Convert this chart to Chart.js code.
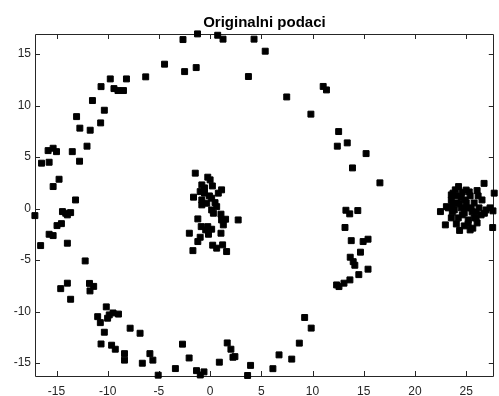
<!DOCTYPE html>
<html>
<head>
<meta charset="utf-8">
<script src="https://cdn.jsdelivr.net/npm/chart.js@4"></script>
<style>
  html, body { margin: 0; padding: 0; background: #fff; }
</style>
</head>
<body>
<canvas id="chart-original" width="499" height="396"></canvas>
<script>
// outer ring of points
const ringX = [
  -16.46, -15.82, -15.33, -15.00, -15.72, -15.33, -14.75, -13.46, -12.75, -12.02,
  -13.04, -12.72, -11.71, -10.69, -10.33, -11.49, -10.65, -9.75, -9.39, -9.00,
  -8.46, -8.17, -6.29, -4.45, -2.49, -1.36, -2.65, -1.23, 0.74, 1.26,
  4.29, 5.38, 3.74, 7.48, 9.84, 11.04, 11.36, 12.55, 12.42, 13.39,
  15.23, 13.90, 16.58, -13.14, 13.26, 13.63, 14.42, 13.17, 13.78, 14.94,
  15.42, 14.68, 13.68, 13.97, 14.13, 14.52, 15.42, 13.65, 13.07, 12.58,
  12.35, 9.23, 9.87, 8.71, 7.97, 6.73, 6.13, 3.95, 3.66, 2.42,
  2.23, 2.03, 1.67, 0.90, -0.60, -0.96, -1.33, -2.05, -2.70, -3.39,
  -5.07, -5.59, -5.88, -6.62, -6.84, -7.81, -8.36, -8.36, -9.26, -9.62,
  -10.65, -10.33, -8.95, -9.48, -9.85, -10.01, -10.14, -10.98, -10.72, -11.78,
  -11.37, -11.73, -12.20, -13.62, -13.94, -14.59, -13.94, -16.55, -17.11, -15.72,
  -15.33, -14.95, -14.52, -14.42, -14.10, -13.62, -13.94
];
const ringY = [
  4.41, 5.63, 5.86, 5.53, 4.50, 2.14, 2.85, 5.53, 4.60, 6.06,
  8.93, 7.81, 7.61, 8.32, 9.55, 10.49, 11.84, 12.59, 11.65, 11.46,
  11.46, 12.59, 12.79, 14.02, 13.30, 13.69, 16.41, 16.96, 16.83, 16.45,
  16.45, 15.28, 12.82, 10.84, 9.17, 11.86, 11.52, 7.48, 6.06, 6.38,
  5.34, 3.95, 2.50, 0.84, -0.16, -0.51, -0.19, -1.83, -3.11, -3.20,
  -2.97, -4.23, -4.72, -5.15, -5.50, -6.41, -5.88, -6.92, -7.24, -7.57,
  -7.41, -10.57, -11.60, -13.06, -14.61, -14.20, -15.54, -15.22, -16.20, -14.37,
  -14.43, -13.65, -13.04, -14.91, -15.85, -16.15, -15.73, -14.50, -13.16, -15.53,
  -16.17, -14.71, -14.08, -15.01, -12.10, -11.61, -14.71, -14.08, -13.65, -13.26,
  -13.14, -12.00, -10.24, -10.13, -10.32, -10.64, -9.54, -10.49, -11.07, -7.26,
  -7.55, -7.99, -5.08, -8.80, -7.24, -7.77, -3.36, -3.59, -0.68, -2.49,
  -2.62, -1.65, -1.46, -0.29, -0.45, -0.39, -0.61
];

// cluster around the origin
const centerX = [
  -1.45, -0.23, 0.00, -0.81, 1.12, 0.80, -0.97, -0.55, -1.62, -0.81,
  -0.33, 0.15, 0.48, 0.64, 0.15, 0.32, 1.06, 1.51, 1.12, 2.74,
  -1.20, -0.23, -0.43, 0.15, 1.29, 1.06, -2.03, -0.97, -1.20, -1.68,
  0.25, 0.64, 1.22, 1.61, -0.81, -0.87, -0.16, -0.55, -0.07, 0.22
];
const centerY = [
  3.44, 3.05, 2.79, 2.30, 1.82, 1.50, 1.65, 1.50, 1.11, 0.84,
  0.52, 1.01, 0.58, 0.19, -0.13, -0.45, -0.54, -1.03, -1.10, -1.10,
  -1.00, -1.75, -2.07, -2.00, -1.58, -2.39, -2.39, -2.78, -3.20, -4.08,
  -3.55, -3.84, -3.52, -4.17, 0.36, -1.75, -2.49, 2.01, 1.23, 2.20
];

// dense cluster near (25, 0)
const clusterX = [
  24.26, 26.75, 26.07, 23.72, 27.74, 22.49, 23.07, 22.97, 24.36, 25.65,
  27.59, 26.78, 23.55, 23.84, 24.04, 24.33, 24.62, 24.62, 24.91, 25.00,
  25.20, 25.39, 25.58, 25.78, 25.97, 26.26, 26.55, 26.94, 27.33, 27.62,
  23.55, 24.04, 24.81, 26.07, 23.26, 25.00, 23.68, 25.39,
  23.55, 24.04, 24.52, 25.01, 25.49, 24.81, 24.23, 25.78, 25.20, 26.17,
  24.52, 25.30, 25.97, 23.65, 26.46, 23.94
];
const clusterY = [
  2.14, 2.45, 1.75, 1.50, 1.50, -0.29, 0.19, -1.58, -2.12, -1.90,
  -1.84, -0.45, 0.84, -0.13, 1.23, 0.46, 1.60, -0.61, 0.84, 0.07,
  -1.10, 1.23, -0.32, 0.55, -0.90, 0.07, 0.84, -0.13, 0.07, -0.22,
  -0.90, -1.49, -1.68, -1.39, 0.07, 1.80, 0.36, -2.07,
  1.33, 0.55, 1.04, 0.55, 0.07, -0.42, -0.90, -0.90, -1.49, 1.23,
  0.07, 1.62, -0.32, -0.32, -0.61, 1.82
];

const xTicks = [-15, -10, -5, 0, 5, 10, 15, 20, 25];
const yTicks = [-15, -10, -5, 0, 5, 10, 15];
const xLimits = [-17.1, 27.7];
const yLimits = [-16.25, 16.95];

const toPoints = (xs, ys) => xs.map((x, i) => ({ x: x, y: ys[i] }));
const allPoints = [].concat(
  toPoints(ringX, ringY),
  toPoints(centerX, centerY),
  toPoints(clusterX, clusterY)
);

const axisColor = "#262626";
const tickLen = 5;

// box around the plot area with inward ticks on all four sides
const boxPlugin = {
  id: "boxTicks",
  beforeDatasetsDraw(chart) {
    const { ctx, chartArea: a, scales } = chart;
    ctx.save();
    ctx.strokeStyle = axisColor;
    ctx.lineWidth = 1;
    ctx.beginPath();
    ctx.rect(Math.round(a.left) + 0.5, Math.round(a.top) + 0.5,
      Math.round(a.right - a.left) - 1, Math.round(a.bottom - a.top));
    xTicks.forEach((v) => {
      const px = Math.round(scales.x.getPixelForValue(v)) + 0.5;
      ctx.moveTo(px, a.bottom);
      ctx.lineTo(px, a.bottom - tickLen);
      ctx.moveTo(px, a.top);
      ctx.lineTo(px, a.top + tickLen);
    });
    yTicks.forEach((v) => {
      const py = Math.round(scales.y.getPixelForValue(v)) + 0.5;
      ctx.moveTo(a.left, py);
      ctx.lineTo(a.left + tickLen, py);
      ctx.moveTo(a.right, py);
      ctx.lineTo(a.right - tickLen, py);
    });
    ctx.stroke();
    ctx.restore();
  },
};

new Chart(document.getElementById("chart-original"), {
  type: "scatter",
  data: {
    datasets: [
      {
        data: allPoints,
        pointStyle: "rect",
        pointRadius: 4.2,
        pointBorderWidth: 1,
        backgroundColor: "#000",
        borderColor: "#000",
        clip: false,
      },
    ],
  },
  options: {
    responsive: false,
    animation: false,
    devicePixelRatio: 1,
    layout: { padding: { right: 1 } },
    scales: {
      x: {
        type: "linear",
        min: xLimits[0],
        max: xLimits[1],
        afterBuildTicks: (s) => { s.ticks = xTicks.map((v) => ({ value: v })); },
        afterFit: (s) => { s.height = 20; },
        grid: { display: false, drawTicks: false },
        border: { display: false },
        ticks: {
          padding: 8,
          color: axisColor,
          font: { family: "'Liberation Sans', Arial", size: 12 },
          maxRotation: 0,
        },
      },
      y: {
        type: "linear",
        min: yLimits[0],
        max: yLimits[1],
        afterBuildTicks: (s) => { s.ticks = yTicks.map((v) => ({ value: v })); },
        afterFit: (s) => { s.width = 35; },
        grid: { display: false, drawTicks: false },
        border: { display: false },
        ticks: {
          padding: 4,
          color: axisColor,
          font: { family: "'Liberation Sans', Arial", size: 12 },
        },
      },
    },
    plugins: {
      legend: { display: false },
      tooltip: { enabled: false },
      title: {
        display: true,
        fullSize: false,
        text: "Originalni podaci",
        color: "#000",
        font: { family: "'Liberation Sans', Arial", size: 15, weight: "bold", lineHeight: 1.2 },
        padding: { top: 13.5, bottom: 2.5 },
      },
    },
  },
  plugins: [boxPlugin],
});
</script>
</body>
</html>
